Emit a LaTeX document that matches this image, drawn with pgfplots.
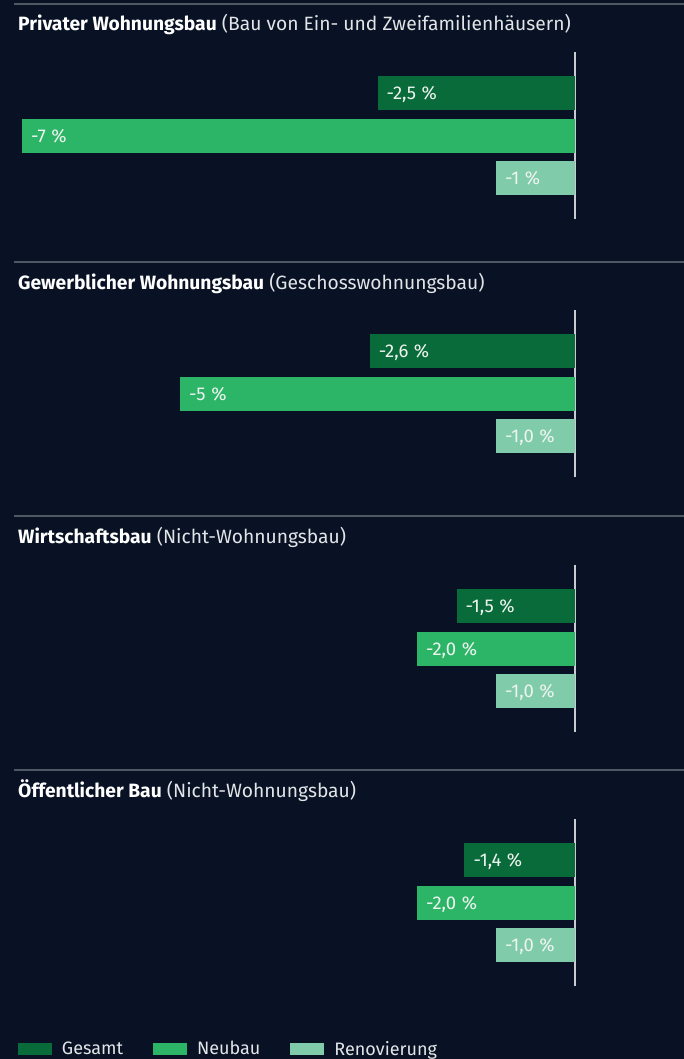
\documentclass[border=0pt]{standalone}
\usepackage{fontspec}
\setmainfont{Fira Sans}
\usepackage{pgfplots}
\pgfplotsset{compat=1.18}

\definecolor{bgnavy}{HTML}{081224}
\definecolor{gesamt}{HTML}{0A6B3A}
\definecolor{neubau}{HTML}{2DB567}
\definecolor{renov}{HTML}{80CBAA}
\definecolor{sepline}{HTML}{505864}
\definecolor{zeroline}{HTML}{C8CCD2}
\definecolor{subtitle}{HTML}{E2E5E8}
\definecolor{barlabel}{HTML}{EEF4F0}

\newcommand{\pct}{\hspace{0.3em}\%}
\pgfplotsset{
  panel/.style={
    xbar, bar shift=0pt, bar width=34pt,
    scale only axis, width=553pt, height=167pt,
    xmin=-7, xmax=0, ymin=-0.965, ymax=2.965,
    axis x line=none, axis y line=right, ytick=\empty,
    axis line style={-, draw=zeroline, line width=2pt},
    clip=false, anchor=south west,
    point meta=explicit symbolic, nodes near coords,
    every node near coord/.append style={anchor=base west, inner sep=0pt,
      xshift=9pt, yshift=-6.5pt, text=barlabel, font=\fontsize{18.5}{18.5}\selectfont},
  },
}
\newcommand{\paneltitle}[3]{%
  \draw[sepline, line width=2pt] (14pt,-#1pt) -- (684pt,-#1pt);
  \node[anchor=base west, inner sep=0pt, font=\fontsize{19.25}{19.25}\selectfont]
    at (18pt,-#1pt-27pt) {\textcolor{white}{\bfseries #2} \textcolor{subtitle}{#3}};}

\begin{document}
\begin{tikzpicture}
\fill[bgnavy] (0pt,0pt) rectangle (684pt,-1059pt);
\useasboundingbox (0pt,0pt) rectangle (684pt,-1059pt);

\paneltitle{4}{Privater Wohnungsbau}{(Bau von Ein- und Zweifamilienhäusern)}
\begin{axis}[panel, at={(22pt,-219pt)}]
  \addplot[fill=gesamt, draw=none] coordinates {(-2.5,2) [-2,5\pct]};
  \addplot[fill=neubau, draw=none] coordinates {(-7,1) [-7\pct]};
  \addplot[fill=renov, draw=none] coordinates {(-1,0) [-1\pct]};
\end{axis}

\paneltitle{262}{Gewerblicher Wohnungsbau}{(Geschosswohnungsbau)}
\begin{axis}[panel, at={(22pt,-477pt)}]
  \addplot[fill=gesamt, draw=none] coordinates {(-2.6,2) [-2,6\pct]};
  \addplot[fill=neubau, draw=none] coordinates {(-5,1) [-5\pct]};
  \addplot[fill=renov, draw=none] coordinates {(-1.0,0) [-1,0\pct]};
\end{axis}

\paneltitle{516}{Wirtschaftsbau}{(Nicht-Wohnungsbau)}
\begin{axis}[panel, at={(22pt,-732pt)}]
  \addplot[fill=gesamt, draw=none] coordinates {(-1.5,2) [-1,5\pct]};
  \addplot[fill=neubau, draw=none] coordinates {(-2.0,1) [-2,0\pct]};
  \addplot[fill=renov, draw=none] coordinates {(-1.0,0) [-1,0\pct]};
\end{axis}

\paneltitle{770}{Öffentlicher Bau}{(Nicht-Wohnungsbau)}
\begin{axis}[panel, at={(22pt,-986pt)},
  legend image code/.code={\draw[#1, draw=none] (0pt,-6pt) rectangle (34pt,6pt); \path (44pt,0pt);},
  legend columns=3,
  legend style={at={(axis description cs:-0.00723,-0.377)}, anchor=west,
    draw=none, fill=none, inner sep=0pt, outer sep=0pt,
    nodes={inner sep=0pt, text=subtitle, font=\fontsize{18}{18}\selectfont},
    /tikz/every even column/.append style={column sep=30pt}},
  legend cell align=left]
  \addplot[fill=gesamt, draw=none] coordinates {(-1.4,2) [-1,4\pct]};
  \addlegendentry{Gesamt}
  \addplot[fill=neubau, draw=none] coordinates {(-2.0,1) [-2,0\pct]};
  \addlegendentry{Neubau}
  \addplot[fill=renov, draw=none] coordinates {(-1.0,0) [-1,0\pct]};
  \addlegendentry{Renovierung}
\end{axis}
\end{tikzpicture}
\end{document}
